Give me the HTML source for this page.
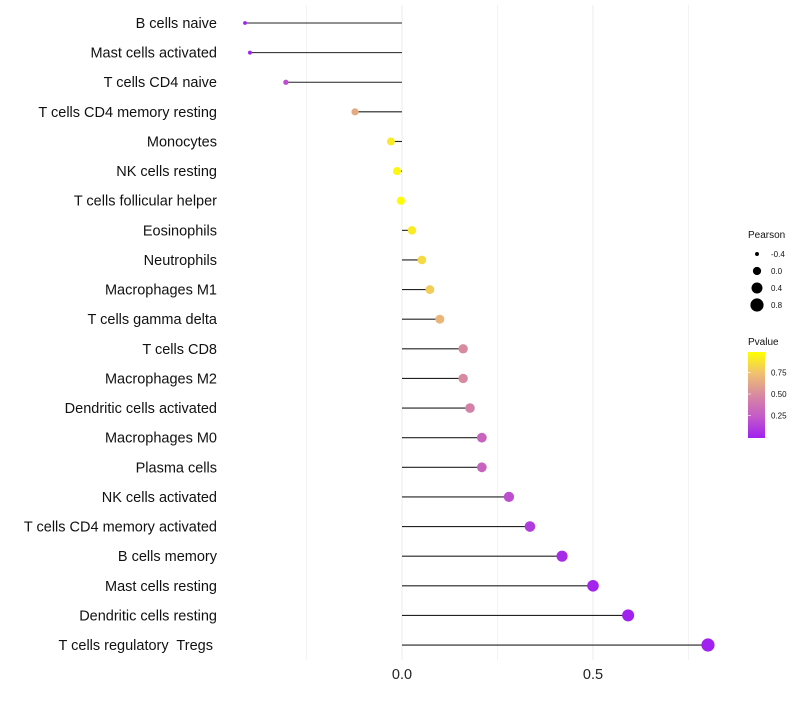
<!DOCTYPE html>
<html><head><meta charset="utf-8"><style>
body{margin:0;background:#fff;}
svg text{font-family:"Liberation Sans",sans-serif;white-space:pre;}
</style></head><body>
<svg id="chart" width="800" height="700" xmlns="http://www.w3.org/2000/svg"></svg>
<script>
const categories=["B cells naive","Mast cells activated","T cells CD4 naive","T cells CD4 memory resting","Monocytes","NK cells resting","T cells follicular helper","Eosinophils","Neutrophils","Macrophages M1","T cells gamma delta","T cells CD8","Macrophages M2","Dendritic cells activated","Macrophages M0","Plasma cells","NK cells activated","T cells CD4 memory activated","B cells memory","Mast cells resting","Dendritic cells resting","T cells regulatory  Tregs "];
const pearson=[-0.411,-0.398,-0.304,-0.123,-0.029,-0.013,-0.003,0.026,0.052,0.073,0.099,0.16,0.16,0.178,0.209,0.209,0.28,0.335,0.419,0.5,0.592,0.801];
const pvalue=[0.01,0.02,0.2,0.65,0.92,0.96,0.99,0.92,0.85,0.8,0.7,0.5,0.5,0.45,0.3,0.3,0.2,0.12,0.05,0.02,0.01,0.003];
const xTicks=[0,0.5];
const xGrid=[-0.25,0.25,0.75];
const sizeLegend=[-0.4,0.0,0.4,0.8];
const colorTicks=[0.25,0.5,0.75];

const NS="http://www.w3.org/2000/svg";
const svg=document.getElementById('chart');
const X=v=>402+v*382;
const Y=i=>23+i*29.62;
const R=v=>Math.sqrt(Math.max(3.5,17+33*v));
const stops=[[0,[160,32,240]],[0.25,[196,90,200]],[0.5,[216,138,160]],[0.75,[240,192,112]],[1,[255,255,0]]];
function col(p){for(let k=1;k<stops.length;k++){if(p<=stops[k][0]){const a=stops[k-1],b=stops[k];const t=(p-a[0])/(b[0]-a[0]);return 'rgb('+a[1].map((c,j)=>Math.round(c+(b[1][j]-c)*t)).join(',')+')';}}return 'rgb(255,255,0)';}
function el(t,a,txt){const e=document.createElementNS(NS,t);for(const k in a)e.setAttribute(k,a[k]);if(txt!==undefined)e.textContent=txt;svg.appendChild(e);return e;}

xGrid.concat(xTicks).forEach(v=>{const g=el('line',{x1:X(v),x2:X(v),y1:5,y2:660,stroke:'#ebebeb','stroke-width':xTicks.includes(v)?1:0.6});

});
xTicks.forEach(v=>{const t=el('text',{x:X(v),y:679,'text-anchor':'middle','font-size':14.5,fill:'#222'},v.toFixed(1));

});
categories.forEach((c,i)=>{
 const t=el('text',{x:217,y:Y(i)+5,'text-anchor':'end','font-size':14.5,fill:'#111'},c);
 
 
 const s=el('line',{x1:X(0),x2:X(pearson[i]),y1:Y(i),y2:Y(i),stroke:'#222','stroke-width':1.1});
 
 
 const d=el('circle',{cx:X(pearson[i]),cy:Y(i),r:R(pearson[i]),fill:col(pvalue[i])});
 
 
});
const lt=el('text',{x:748,y:238,'font-size':10,fill:'#111'},'Pearson');


sizeLegend.forEach((v,k)=>{const cy=254+k*17;
 const c=el('circle',{cx:757,cy:cy,r:R(v),fill:'#000'});
 
 
 const t=el('text',{x:771,y:cy+3,'font-size':8,fill:'#111'},v.toFixed(1));
 
 });
const ct=el('text',{x:748,y:345,'font-size':10,fill:'#111'},'Pvalue');


const defs=el('defs',{});
const lg=document.createElementNS(NS,'linearGradient');lg.setAttribute('id','pg');lg.setAttribute('x1','0');lg.setAttribute('y1','1');lg.setAttribute('x2','0');lg.setAttribute('y2','0');
stops.forEach(s=>{const st=document.createElementNS(NS,'stop');st.setAttribute('offset',s[0]);st.setAttribute('stop-color','rgb('+s[1].join(',')+')');lg.appendChild(st);});
defs.appendChild(lg);
const bar=el('rect',{x:748,y:352,width:17,height:86,fill:'url(#pg)'});


const CY=p=>437-p*86;
colorTicks.forEach(p=>{
 const tk=el('line',{x1:748,x2:751,y1:CY(p),y2:CY(p),stroke:'#fff','stroke-width':0.6});
 
 
 const t=el('text',{x:771,y:CY(p)+3,'font-size':8,fill:'#111'},p.toFixed(2));
 
 });
</script>
</body></html>
